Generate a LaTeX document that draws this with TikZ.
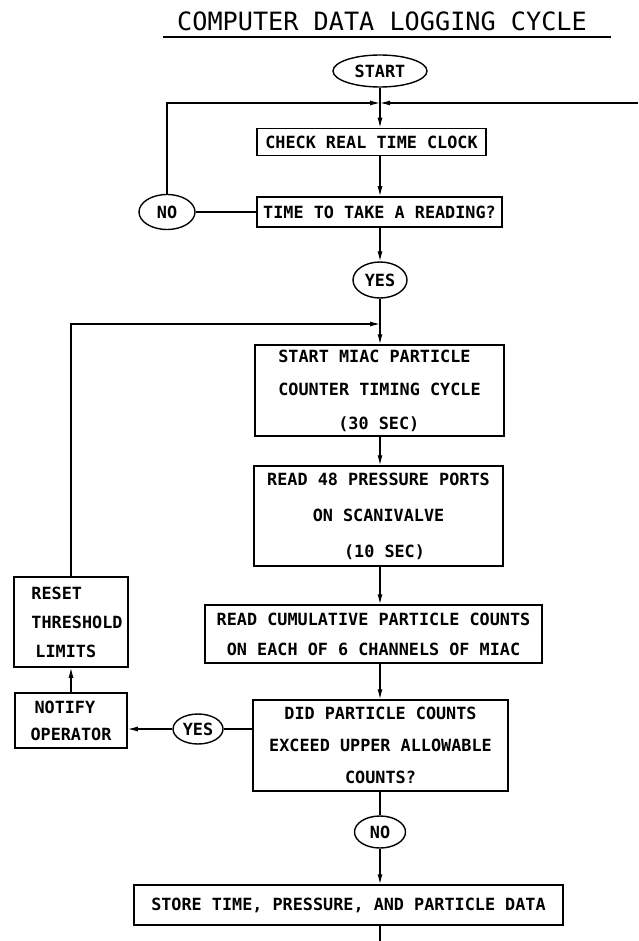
\documentclass[tikz,border=0pt]{standalone}
\usepackage{fontspec}
\usepackage{tikz}
\usetikzlibrary{arrows.meta}
\usetikzlibrary{shapes.geometric}
\newfontfamily\plotter{DejaVu Sans Mono}
\tikzset{
  proc/.style = {draw, rectangle, line width=1.5pt, inner sep=0pt, align=center,
                 font=\plotter\bfseries\fontsize{16.8}{30}\selectfont},
  term/.style = {draw, ellipse, line width=1.4pt, inner sep=0pt,
                 font=\plotter\bfseries\fontsize{16.8}{20}\selectfont},
  flow/.style = {line width=1.2pt, -{Latex[length=10pt,width=5pt]}},
  link/.style = {line width=1.2pt},
}

\begin{document}
\begin{tikzpicture}[x=1pt, y=-1pt]
    \useasboundingbox (0,0) rectangle (638,941);
    \node[font=\plotter\fontsize{25.2}{30}\selectfont] (title) at (382,21) {COMPUTER DATA LOGGING CYCLE};
    \draw[line width=1.4pt] (163,37) -- (611,37);

    \coordinate (jtop) at (380,103);
    \coordinate (jmid) at (380,324);
    \coordinate (back) at (638,103);
    \coordinate (down) at (380,941);

    \node[term, minimum width=94pt,  minimum height=32pt] (start)   at (380,  71)   {START};
    \node[proc, minimum width=229pt, minimum height=27pt] (check)   at (371.5,142)  {CHECK REAL TIME CLOCK};
    \node[proc, minimum width=245pt, minimum height=30pt] (time)    at (379.5,212)  {TIME TO TAKE A READING?};
    \node[term, minimum width=56pt,  minimum height=35pt] (no1)     at (167,  212)  {NO};
    \node[term, minimum width=54pt,  minimum height=36pt] (yes1)    at (380,  280)  {YES};
    \node[proc, align=left, minimum width=249pt, minimum height=91pt] (miac) at (379.5,390.5)
        {START MIAC PARTICLE\\[3.5pt] COUNTER TIMING CYCLE\\[3.5pt] \hspace*{60pt}(30 SEC)};
    \node[proc, minimum width=249pt, minimum height=100pt] (read48) at (378.5,516)
        {READ 48 PRESSURE PORTS\\[6pt] ON SCANIVALVE\\[6pt] \hspace*{12pt}(10 SEC)};
    \node[proc, minimum width=337pt, minimum height=58pt] (readcum) at (373.5,634)
        {READ CUMULATIVE PARTICLE COUNTS\\ ON EACH OF 6 CHANNELS OF MIAC};
    \node[proc, minimum width=255pt, minimum height=91pt] (did)     at (380.5,745.5)
        {DID PARTICLE COUNTS\\[2pt] EXCEED UPPER ALLOWABLE\\[2pt] COUNTS?};
    \node[term, minimum width=51pt,  minimum height=32pt] (no2)     at (380,  832)  {NO};
    \node[proc, minimum width=429pt, minimum height=40pt] (store)   at (348.5,905)
        {STORE TIME, PRESSURE, AND PARTICLE DATA};
    \node[proc, align=left, minimum width=114pt, minimum height=90pt] (reset) at (71,622)
        {\hspace*{12pt}RESET\\[-1pt] \hspace*{12pt}THRESHOLD\\[-1pt] \hspace*{16pt}LIMITS};
    \node[proc, align=left, minimum width=112pt, minimum height=55pt] (notify) at (71,720.5)
        {\hspace*{4pt}NOTIFY\\[-3pt] OPERATOR};
    \node[term, minimum width=50pt,  minimum height=30pt] (yes2)    at (198,  729)  {YES};

    % reading loop
    \draw[link] (start.south) -- (jtop);
    \draw[flow] (no1.north) |- (jtop);
    \draw[flow] (back) -- (jtop);
    \draw[flow] (jtop) -- (check.north -| jtop);
    \draw[flow] (check.south -| jtop) -- (time.north -| jtop);
    \draw[link] (time.west) -- (no1.east);
    \draw[flow] (time.south -| jtop) -- (yes1.north);

    % counting cycle
    \draw[link] (yes1.south) -- (jmid);
    \draw[flow] (reset.north) |- (jmid);
    \draw[flow] (jmid) -- (miac.north -| jmid);
    \draw[flow] (miac.south -| jmid) -- (read48.north -| jmid);
    \draw[flow] (read48.south -| jmid) -- (readcum.north -| jmid);
    \draw[flow] (readcum.south -| jmid) -- (did.north -| jmid);
    \draw[link] (did.south -| jmid) -- (no2.north);
    \draw[flow] (no2.south) -- (store.north -| jmid);
    \draw[link] (store.south -| jmid) -- (down);
    \draw[link] (did.west |- yes2) -- (yes2.east);
    \draw[flow] (yes2.west) -- (notify.east |- yes2);
    \draw[flow] (notify.north) -- (reset.south);
\end{tikzpicture}
\end{document}
